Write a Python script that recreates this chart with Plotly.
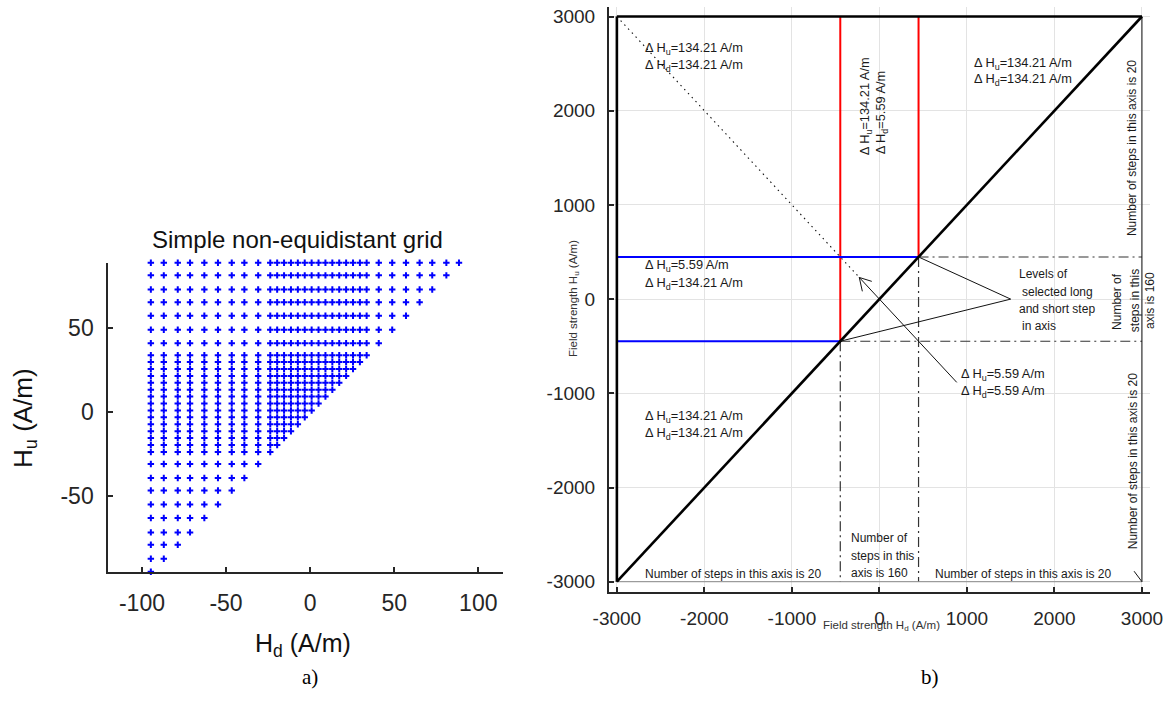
import plotly.graph_objects as go

W, H = 1172, 720

# ---------------- panel a): simple non-equidistant grid ----------------
# grid levels (A/m), shared by both axes: coarse / fine / coarse
grid_levels = [-94.7, -87.0, -78.7, -71.4, -62.9, -54.8, -46.6, -39.1, -30.9,
               -23.7, -19.6, -15.5, -11.4, -7.3, -3.2, 0.9, 5.0, 9.1,
               13.2, 17.3, 21.4, 25.5, 29.6, 33.6,
               40.8, 48.8, 57.0, 65.1, 72.6, 81.0, 88.5]
ticks_a_x = [-100, -50, 0, 50, 100]
ticks_a_y = [-50, 0, 50]

# ---------------- panel b): long / short step scheme ----------------
h_max = 3000.0          # field strength limit (A/m)
long_step = 134.21      # long step (A/m)
short_step = 5.59       # short step (A/m)
n_long = 20             # number of long steps per outer axis part
n_short = 160           # number of short steps in the inner band
ticks_b = [-3000, -2000, -1000, 0, 1000, 2000, 3000]

h_in = n_short * short_step / 2.0   # half width of the inner band

FONT = "Liberation Sans, Arial, sans-serif"
AX = "#262626"
BLUE = "#0000ff"
RED = "#ff0000"

fig = go.Figure()

# grid nodes with Hu >= Hd
hd_pts, hu_pts = [], []
for hd in grid_levels:
    for hu in grid_levels:
        if hu >= hd:
            hd_pts.append(hd)
            hu_pts.append(hu)

fig.add_trace(go.Scatter(
    x=hd_pts, y=hu_pts, mode="markers", xaxis="x", yaxis="y",
    marker=dict(symbol="cross-thin", size=4.6, color=BLUE,
                line=dict(width=2, color=BLUE)),
    cliponaxis=False, showlegend=False, hoverinfo="skip"))


def seg(x, y, color, width, dash="solid", axis=("x2", "y2")):
    fig.add_trace(go.Scatter(
        x=x, y=y, mode="lines", xaxis=axis[0], yaxis=axis[1],
        line=dict(color=color, width=width, dash=dash),
        cliponaxis=False, showlegend=False, hoverinfo="skip"))


DASHDOT = "10px,4px,2px,4px"

# dash-dot level lines of the inner band
seg([h_in, h_max], [h_in, h_in], "#333333", 1.2, DASHDOT)
seg([-h_in, h_max], [-h_in, -h_in], "#333333", 1.2, DASHDOT)
seg([-h_in, -h_in], [-h_in, -h_max], "#333333", 1.2, DASHDOT)
seg([h_in, h_in], [h_in, -h_max], "#333333", 1.2, DASHDOT)

# thin frame lines on right and bottom
seg([-h_max, h_max], [-h_max, -h_max], "#8a8a8a", 1)
seg([h_max, h_max], [-h_max, h_max], "#111111", 1)

# dotted guide from the corner towards the inner band
tip = (-230.0, 230.0)
seg([-h_max, tip[0]], [h_max, tip[1]], "#111111", 1.1, "1.5px,4px")

# red: Hd level lines, blue: Hu level lines
seg([-h_in, -h_in], [-h_in, h_max], RED, 2)
seg([h_in, h_in], [h_in, h_max], RED, 2)
seg([-h_max, h_in], [h_in, h_in], BLUE, 2)
seg([-h_max, -h_in], [-h_in, -h_in], BLUE, 2)

# boundary of the admissible region (Hu >= Hd)
seg([-h_max, h_max], [-h_max, h_max], "#000000", 2.6)
seg([-h_max, h_max], [h_max, h_max], "#000000", 2.6)
seg([-h_max, -h_max], [-h_max, h_max], "#000000", 2.6)

ann = []


def note(x, y, text, size=12, angle=0, xanchor="left", yanchor="middle",
         xref="x2", yref="y2", family=FONT, color="#1a1a1a"):
    ann.append(dict(x=x, y=y, text=text, xref=xref, yref=yref,
                    showarrow=False, textangle=angle, xanchor=xanchor,
                    yanchor=yanchor, font=dict(family=family, size=size, color=color)))


def dh(sub, val):
    return f"\u0394 H<sub>{sub}</sub>={val:.2f} A/m"


# step annotations
S = 12.8
note(-2699, 2662, dh("u", long_step), S)
note(-2699, 2485, dh("d", long_step), S)
note(1057, 2503, dh("u", long_step), S)
note(1057, 2326, dh("d", long_step), S)
note(-2699, 355, dh("u", short_step), S)
note(-2699, 171, dh("d", long_step), S)
note(-2699, -1248, dh("u", long_step), S)
note(-2699, -1425, dh("d", long_step), S)
note(904, -795, dh("u", short_step), S)
note(904, -976, dh("d", short_step), S)
note(-163, 2049, dh("u", long_step), S, angle=-90, xanchor="center")
note(28, 1981, dh("d", short_step), S, angle=-90, xanchor="center")

# levels label with its two pointer lines
label_pt = (1500.0, 0.0)
note(1571, 266, "Levels of")
note(1609, 79, "selected long")
note(1571, -108, "and short step")
note(1609, -286, "in axis")

# step counts
note(-2696, -2918, f"Number of steps in this axis is {n_long}")
note(618, -2918, f"Number of steps in this axis is {n_long}")
note(-353, -2536, "Number of")
note(-353, -2727, "steps in this")
note(-353, -2908, f"axis is {n_short}")
note(2893, 1599, f"Number of steps in this axis is {n_long}", angle=-90, xanchor="center")
note(2900, -1719, f"Number of steps in this axis is {n_long}", angle=-90, xanchor="center")
note(2714, -20, "Number of", angle=-90, xanchor="center")
note(2923, -20, "steps in this", angle=-90, xanchor="center")
note(1150 / W, 1 - 301 / H, f"axis is {n_short}", angle=-90, xanchor="center",
     xref="paper", yref="paper")

# arrow from the short-step label to the dotted guide
ann.append(dict(x=tip[0], y=tip[1], ax=900, ay=-900, xref="x2", yref="y2",
                axref="x2", ayref="y2", text="", showarrow=True, arrowhead=0,
                arrowwidth=1, arrowcolor="#111111"))
for dx, dy in [(3.4, 15.4), (14.0, 4.4)]:
    ann.append(dict(x=tip[0], y=tip[1], ax=dx, ay=dy, xref="x2", yref="y2",
                    text="", showarrow=True, arrowhead=0, arrowwidth=1,
                    arrowcolor="#111111"))
# small pointer at the bottom-right corner
ann.append(dict(x=h_max, y=-h_max, ax=-9, ay=-12, xref="x2", yref="y2",
                text="", showarrow=True, arrowhead=0, arrowwidth=1,
                arrowcolor="#111111"))

# axis titles of panel b
note(881 / W, 1 - 626 / H, "Field strength H<sub>d</sub> (A/m)", size=11.5,
     xanchor="center", xref="paper", yref="paper", color="#333333")
note(574 / W, 1 - 299 / H, "Field strength H<sub>u</sub> (A/m)", size=11.5,
     angle=-90, xanchor="center", xref="paper", yref="paper", color="#333333")

# panel a title and axis titles
note(297 / W, 1 - 240 / H, "Simple non-equidistant grid", size=24,
     xanchor="center", xref="paper", yref="paper", color="#111111")
note(303 / W, 1 - 645 / H, "H<sub>d</sub> (A/m)", size=25,
     xanchor="center", xref="paper", yref="paper", color="#111111")
note(24 / W, 1 - 418 / H, "H<sub>u</sub> (A/m)", size=26, angle=-90,
     xanchor="center", xref="paper", yref="paper", color="#111111")

# captions
note(310 / W, 1 - 677 / H, "a)", size=21, xanchor="center", xref="paper",
     yref="paper", family="Liberation Serif, Times New Roman, serif", color="#000000")
note(930 / W, 1 - 677 / H, "b)", size=21, xanchor="center", xref="paper",
     yref="paper", family="Liberation Serif, Times New Roman, serif", color="#000000")

shapes = []
for sx in (h_in, -h_in):
    shapes.append(dict(type="line", xref="x2", yref="y2", x0=sx, y0=sx,
                       x1=label_pt[0], y1=label_pt[1],
                       line=dict(color="#111111", width=1)))

axis_common = dict(showline=True, linecolor=AX, linewidth=2, ticks="inside",
                   tickcolor=AX, tickwidth=1.5, zeroline=False, mirror=False,
                   automargin=False)

fig.update_layout(
    template="none",
    width=W, height=H, margin=dict(l=0, r=0, t=0, b=0, autoexpand=False),
    paper_bgcolor="white", plot_bgcolor="white", showlegend=False,
    annotations=ann, shapes=shapes,
    xaxis=dict(domain=[108.3 / W, 502.7 / W], range=[-120, 114.5],
               tickvals=ticks_a_x, ticktext=[str(v) for v in ticks_a_x],
               ticklen=5, showgrid=False, anchor="y", ticklabelstandoff=10,
               tickfont=dict(family=FONT, size=23, color=AX), **axis_common),
    yaxis=dict(domain=[1 - 571.7 / H, 1 - 262.7 / H],
               range=[min(grid_levels), max(grid_levels)],
               tickvals=ticks_a_y, ticktext=[str(v) for v in ticks_a_y],
               ticklen=5, showgrid=False, anchor="x", ticklabelstandoff=8,
               tickfont=dict(family=FONT, size=23, color=AX), **axis_common),
    xaxis2=dict(domain=[609 / W, 1150 / W], range=[-3090, 3092],
                tickvals=ticks_b, ticktext=[str(v) for v in ticks_b],
                ticklen=5, showgrid=True, gridcolor="#e3e3e3", gridwidth=1,
                anchor="y2", ticklabelstandoff=8,
                tickfont=dict(family=FONT, size=19, color=AX), **axis_common),
    yaxis2=dict(domain=[1 - 591.7 / H, 1 - 6.7 / H], range=[-3106, 3104],
                tickvals=ticks_b, ticktext=[str(v) for v in ticks_b],
                ticklen=5, showgrid=True, gridcolor="#e3e3e3", gridwidth=1,
                anchor="x2", ticklabelstandoff=8,
                tickfont=dict(family=FONT, size=19, color=AX), **axis_common),
)

fig.write_html("out.html")
